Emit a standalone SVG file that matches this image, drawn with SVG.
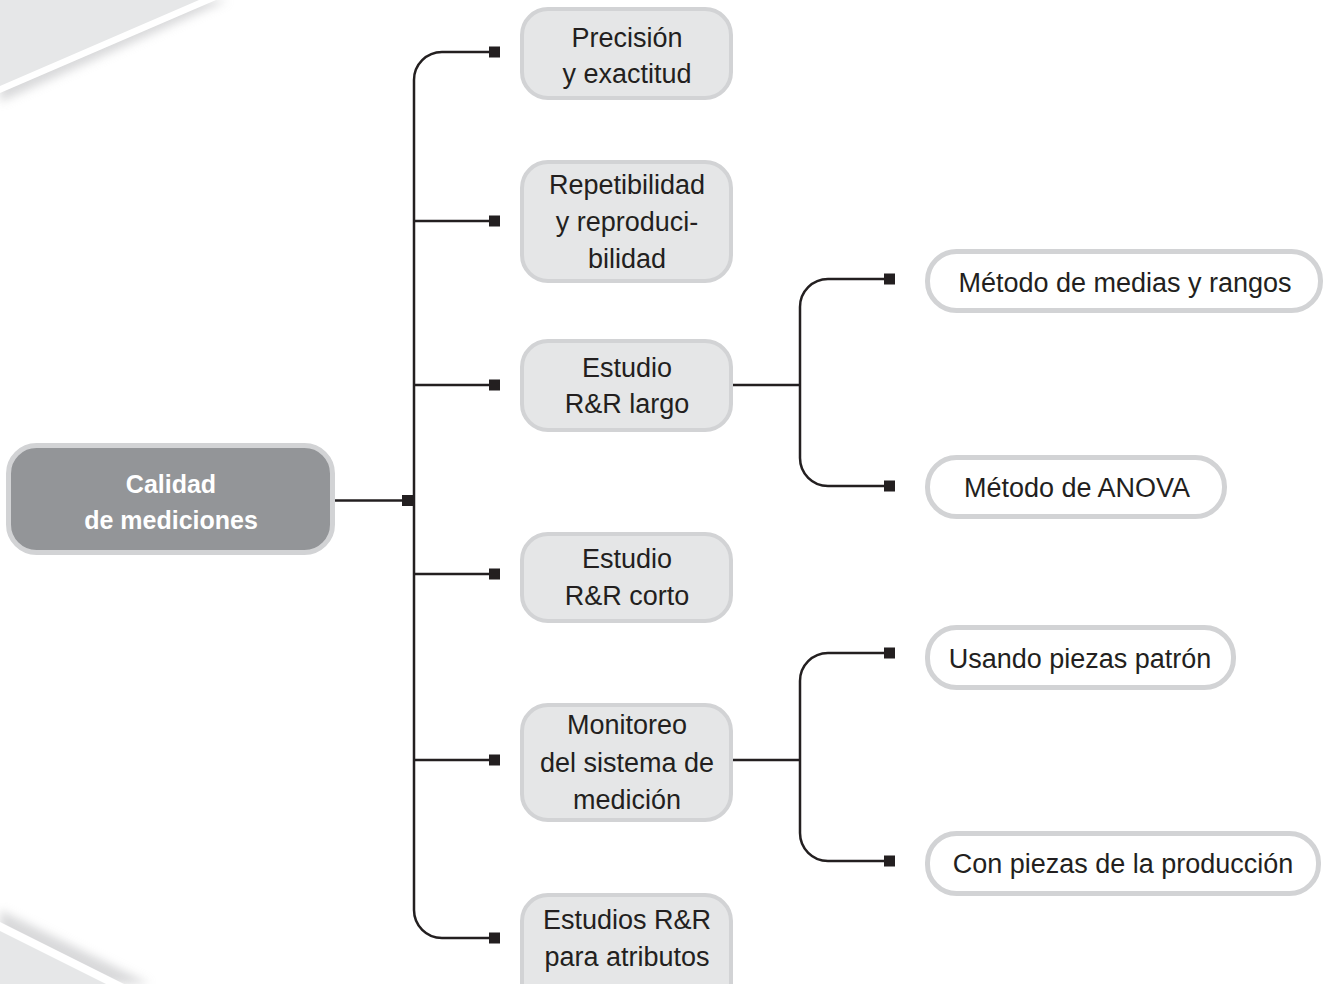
<svg xmlns="http://www.w3.org/2000/svg" width="1330" height="984" viewBox="0 0 1330 984">
<style>
.box{fill:#e5e6e7;stroke:#d2d3d5;stroke-width:4}
.wbox{fill:#ffffff;stroke:#d2d3d5;stroke-width:5}
.root{fill:#939598;stroke:#d2d3d5;stroke-width:5}
.t{font-family:"Liberation Sans",Arial,sans-serif;font-size:27px;fill:#231f20;text-anchor:middle}
.rt{font-family:"Liberation Sans",Arial,sans-serif;font-size:25px;font-weight:bold;fill:#ffffff;text-anchor:middle}
.ln{fill:none;stroke:#231f20;stroke-width:2.5}
.sq{fill:#231f20}
</style>
<defs>
<filter id="blur" x="-20%" y="-20%" width="140%" height="140%"><feGaussianBlur stdDeviation="5"/></filter>
</defs>
<rect width="1330" height="984" fill="#ffffff"/>
<g id="background">
<polygon points="0,0 228,0 0,102" fill="#bfc0c2" opacity="0.6" filter="url(#blur)"/>
<polygon points="0,0 216,0 0,93" fill="#ffffff"/>
<polygon points="0,0 199,0 0,86" fill="#e6e7e8"/>
<polygon points="0,910 150,984 0,984" fill="#bfc0c2" opacity="0.6" filter="url(#blur)"/>
<polygon points="0,922 124,984 0,984" fill="#ffffff"/>
<polygon points="0,931 106,984 0,984" fill="#e6e7e8"/>
</g>
<g id="connectors">
<path class="ln" d="M335 500.5 H404"/>
<path class="ln" d="M490 52 H442 A28 28 0 0 0 414 80 V910 A28 28 0 0 0 442 938 H490"/>
<path class="ln" d="M414 221 H490 M414 385 H490 M414 574 H490 M414 760 H490"/>
<path class="ln" d="M733 385 H800 M886 279 H828 A28 28 0 0 0 800 307 V458 A28 28 0 0 0 828 486 H886"/>
<path class="ln" d="M733 760 H800 M886 653 H828 A28 28 0 0 0 800 681 V833 A28 28 0 0 0 828 861 H886"/>
<rect class="sq" x="402" y="495" width="11" height="11"/>
<rect class="sq" x="489" y="46.5" width="11" height="11"/>
<rect class="sq" x="489" y="215.5" width="11" height="11"/>
<rect class="sq" x="489" y="379.5" width="11" height="11"/>
<rect class="sq" x="489" y="568.5" width="11" height="11"/>
<rect class="sq" x="489" y="754.5" width="11" height="11"/>
<rect class="sq" x="489" y="932.5" width="11" height="11"/>
<rect class="sq" x="884" y="273.5" width="11" height="11"/>
<rect class="sq" x="884" y="480.5" width="11" height="11"/>
<rect class="sq" x="884" y="647.5" width="11" height="11"/>
<rect class="sq" x="884" y="855.5" width="11" height="11"/>
</g>
<g id="root">
<rect class="root" x="8.5" y="445.5" width="324" height="107" rx="28"/>
<text class="rt" x="171" y="493">Calidad</text>
<text class="rt" x="171" y="529">de mediciones</text>
</g>
<g id="precision">
<rect class="box" x="522" y="9" width="209" height="89" rx="26"/>
<text class="t" x="627" y="46.5">Precisión</text>
<text class="t" x="627" y="83">y exactitud</text>
</g>
<g id="repetibilidad">
<rect class="box" x="522" y="162" width="209" height="119" rx="26"/>
<text class="t" x="627" y="194">Repetibilidad</text>
<text class="t" x="627" y="231">y reproduci-</text>
<text class="t" x="627" y="268">bilidad</text>
</g>
<g id="rr-largo">
<rect class="box" x="522" y="341" width="209" height="89" rx="26"/>
<text class="t" x="627" y="376.5">Estudio</text>
<text class="t" x="627" y="413">R&amp;R largo</text>
</g>
<g id="rr-corto">
<rect class="box" x="522" y="534" width="209" height="87" rx="26"/>
<text class="t" x="627" y="568">Estudio</text>
<text class="t" x="627" y="605">R&amp;R corto</text>
</g>
<g id="monitoreo">
<rect class="box" x="522" y="705" width="209" height="115" rx="26"/>
<text class="t" x="627" y="734">Monitoreo</text>
<text class="t" x="627" y="772">del sistema de</text>
<text class="t" x="627" y="809">medición</text>
</g>
<g id="atributos">
<rect class="box" x="522" y="895" width="209" height="120" rx="26"/>
<text class="t" x="627" y="929">Estudios R&amp;R</text>
<text class="t" x="627" y="966">para atributos</text>
</g>
<g id="medias-rangos">
<rect class="wbox" x="927.5" y="251.5" width="393" height="59" rx="29"/>
<text class="t" x="1125" y="292">Método de medias y rangos</text>
</g>
<g id="anova">
<rect class="wbox" x="927.5" y="457.5" width="297" height="59" rx="29"/>
<text class="t" x="1077" y="497">Método de ANOVA</text>
</g>
<g id="piezas-patron">
<rect class="wbox" x="927.5" y="627.5" width="306" height="60" rx="29"/>
<text class="t" x="1080" y="668">Usando piezas patrón</text>
</g>
<g id="piezas-produccion">
<rect class="wbox" x="927.5" y="833.5" width="391" height="60" rx="29"/>
<text class="t" x="1123" y="873">Con piezas de la producción</text>
</g>
</svg>
